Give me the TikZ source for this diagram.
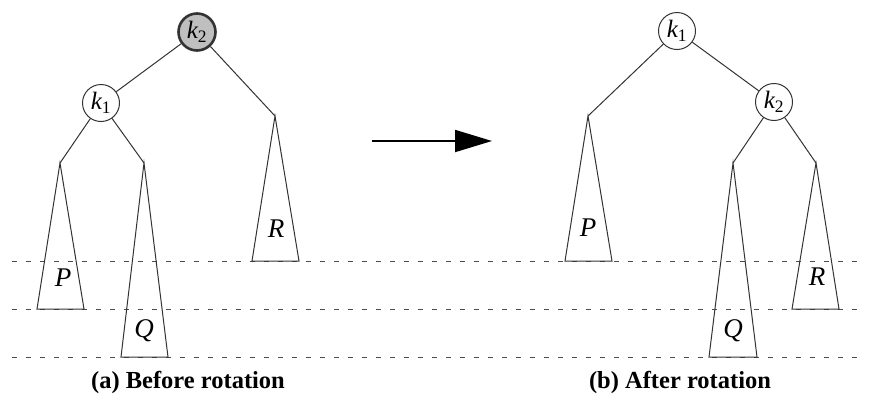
\documentclass[tikz,border=0pt]{standalone}
\usepackage{fontspec}
\newfontfamily\labelfont{Liberation Serif}
\usetikzlibrary{arrows.meta}

\begin{document}
\begin{tikzpicture}[
  x=1pt, y=-1pt,
  keynode/.style={circle, draw=black!80, line width=1pt, minimum size=37pt, inner sep=0pt, font=\labelfont\fontsize{25}{25}\selectfont\itshape},
  rootkey/.style={keynode, line width=2.6pt, fill=black!25},
  branch/.style={draw=black!80, line width=1pt},
  subtree/.style={draw=black!80, line width=1pt, line join=miter},
  treename/.style={font=\labelfont\fontsize{27}{27}\selectfont\itshape, inner sep=0pt},
  levelline/.style={draw=black!70, line width=0.9pt, dash pattern=on 4.5pt off 9.5pt},
  caption/.style={font=\labelfont\fontsize{24.5}{27}\selectfont\bfseries, anchor=base},
  arrow/.style={line width=1.8pt, -{Triangle[length=37pt,width=22pt]}}
]
\useasboundingbox (0,0) rectangle (869,394);

% height levels
\draw [levelline] (12,261) -- (866,261);
\draw [levelline] (12,309) -- (866,309);
\draw [levelline] (12,357) -- (866,357);

% (a) before rotation
\node (ak2) [rootkey] at (197,32) {k\textsubscript{\upshape 2}};
\node (ak1) [keynode] at (101,103) {k\textsubscript{\upshape 1}};
\coordinate (aP) at (60,163);
\coordinate (aQ) at (144,163);
\coordinate (aR) at (275,116);
\draw [branch] (ak2) -- (ak1);
\draw [branch] (ak2) -- (aR);
\draw [branch] (ak1) -- (aP);
\draw [branch] (ak1) -- (aQ);
\draw [subtree] (aP) -- (37,309) -- (84,309) -- cycle;
\draw [subtree] (aQ) -- (121,357) -- (168,357) -- cycle;
\draw [subtree] (aR) -- (252,261) -- (299,261) -- cycle;
\node (aPname) [treename] at (63,278) {P};
\node (aQname) [treename] at (144,331) {Q};
\node (aRname) [treename] at (276,229) {R};
\node (acap) [caption] at (188,388) {(a) Before rotation};

% rotation arrow
\coordinate (from) at (372,141);
\coordinate (to) at (492,141);
\draw [arrow] (from) -- (to);

% (b) after rotation
\node (bk1) [keynode] at (677,31) {k\textsubscript{\upshape 1}};
\node (bk2) [keynode] at (774,102) {k\textsubscript{\upshape 2}};
\coordinate (bP) at (588,116);
\coordinate (bQ) at (733,163);
\coordinate (bR) at (816,163);
\draw [branch] (bk1) -- (bP);
\draw [branch] (bk1) -- (bk2);
\draw [branch] (bk2) -- (bQ);
\draw [branch] (bk2) -- (bR);
\draw [subtree] (bP) -- (565,261) -- (612,261) -- cycle;
\draw [subtree] (bQ) -- (709,357) -- (757,357) -- cycle;
\draw [subtree] (bR) -- (792,309) -- (839,309) -- cycle;
\node (bPname) [treename] at (588,228) {P};
\node (bQname) [treename] at (733,331) {Q};
\node (bRname) [treename] at (817,277) {R};
\node (bcap) [caption] at (680,388) {(b) After rotation};
\end{tikzpicture}
\end{document}
